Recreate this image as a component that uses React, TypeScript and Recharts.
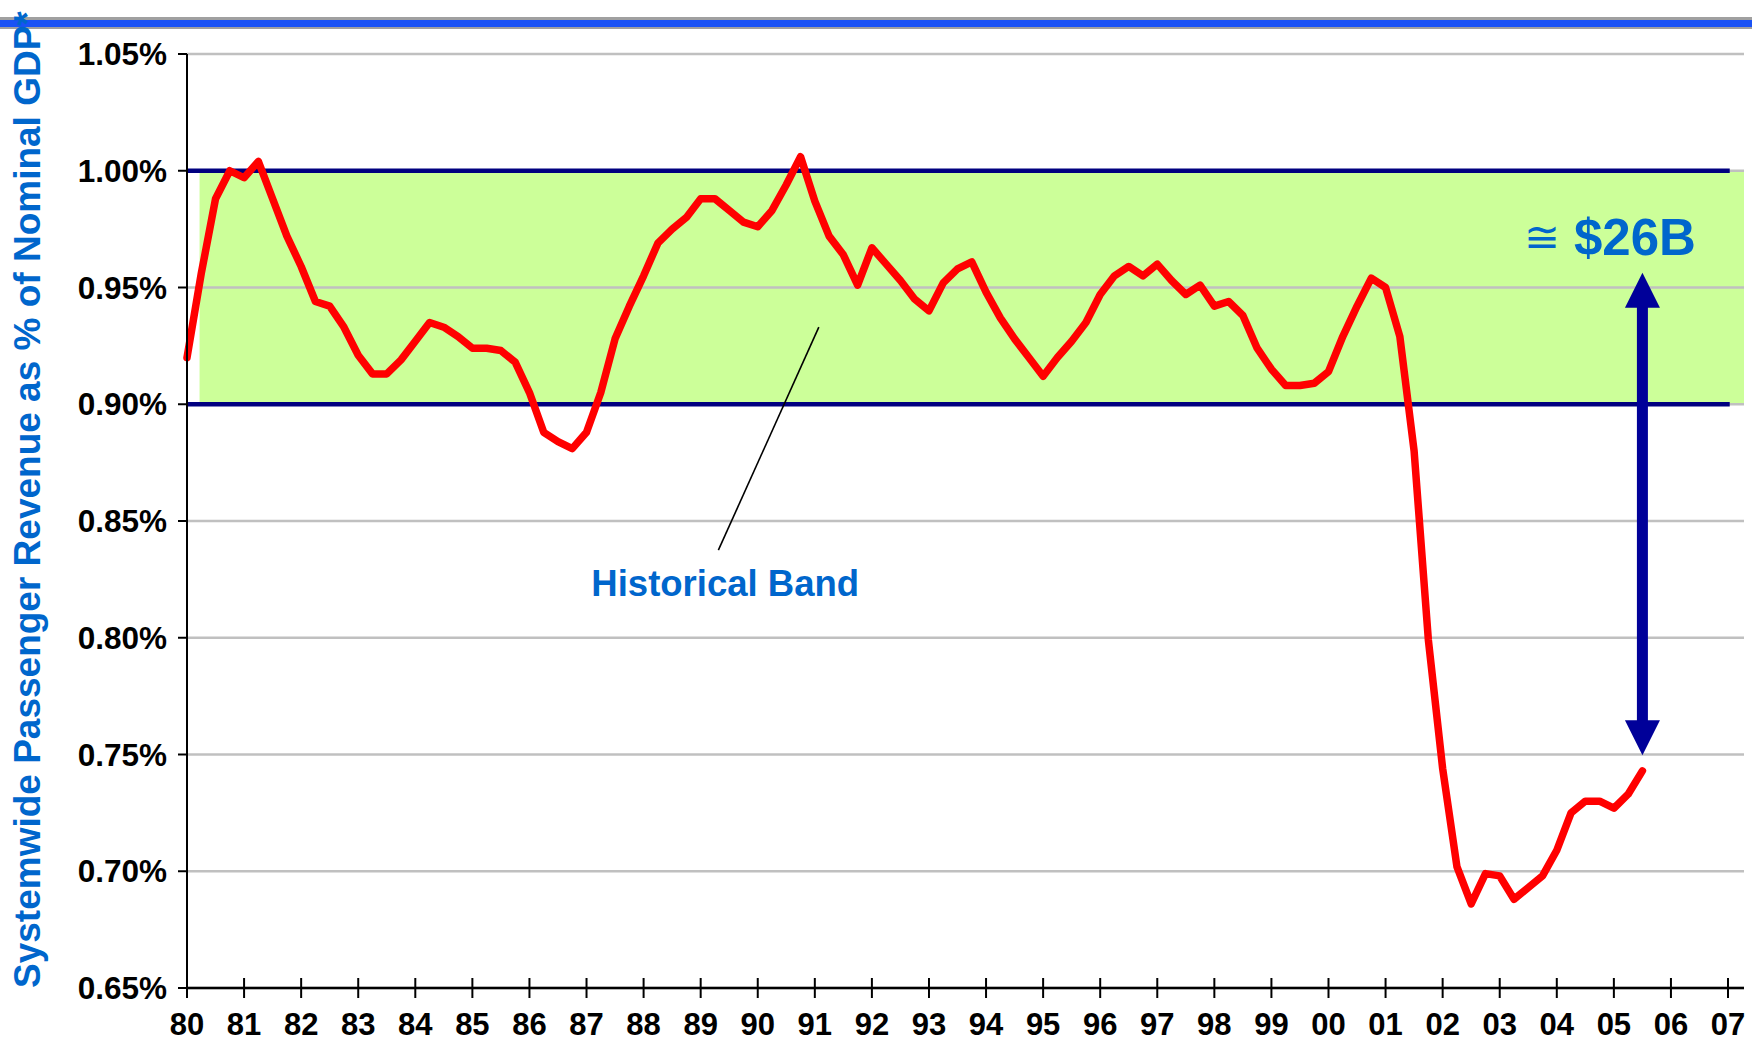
import React from 'react';
import { LineChart, Line, XAxis, YAxis, ReferenceArea, ReferenceLine, ReferenceDot } from 'recharts';

// quarterly, 1980Q1 .. 2005Q3
const firstYear = 1980;
const revenueShare = [
  0.920, 0.956, 0.988, 1.000, 0.997, 1.004, 0.988, 0.972, 0.959, 0.944,
  0.942, 0.933, 0.921, 0.913, 0.913, 0.919, 0.927, 0.935, 0.933, 0.929,
  0.924, 0.924, 0.923, 0.918, 0.905, 0.888, 0.884, 0.881, 0.888, 0.905,
  0.928, 0.942, 0.955, 0.969, 0.975, 0.980, 0.988, 0.988, 0.983, 0.978,
  0.976, 0.983, 0.994, 1.006, 0.987, 0.972, 0.964, 0.951, 0.967, 0.960,
  0.953, 0.945, 0.940, 0.952, 0.958, 0.961, 0.948, 0.937, 0.928, 0.920,
  0.912, 0.920, 0.927, 0.935, 0.947, 0.955, 0.959, 0.955, 0.960, 0.953,
  0.947, 0.951, 0.942, 0.944, 0.938, 0.924, 0.915, 0.908, 0.908, 0.909,
  0.914, 0.929, 0.942, 0.954, 0.950, 0.929, 0.880, 0.799, 0.744, 0.702,
  0.686, 0.699, 0.698, 0.688, 0.693, 0.698, 0.709, 0.725, 0.730, 0.730,
  0.727, 0.733, 0.743,
];

const xTicks = [
  1980, 1981, 1982, 1983, 1984, 1985, 1986, 1987, 1988, 1989, 1990, 1991, 1992, 1993,
  1994, 1995, 1996, 1997, 1998, 1999, 2000, 2001, 2002, 2003, 2004, 2005, 2006, 2007,
];
const xTickLabels = [
  '80', '81', '82', '83', '84', '85', '86', '87', '88', '89', '90', '91', '92', '93',
  '94', '95', '96', '97', '98', '99', '00', '01', '02', '03', '04', '05', '06', '07',
];
const yTicks = [0.65, 0.7, 0.75, 0.8, 0.85, 0.9, 0.95, 1.0, 1.05];

const bandLow = 0.9;
const bandHigh = 1.0;
const gapFrom = 0.9563;
const gapTo = 0.7497;

const data = revenueShare.map((v, i) => ({ year: firstYear + i / 4, share: v }));

const FONT = '"Liberation Sans", Arial, sans-serif';
const BLUE_TEXT = '#0066CC';

const XTick = (props: any) => {
  const { x, y, payload } = props;
  const idx = xTicks.indexOf(payload.value);
  return (
    <g>
      <line x1={x} x2={x} y1={y - 10} y2={y + 10} stroke="#000" strokeWidth={2} />
      <text x={x} y={y + 36} textAnchor="middle" dominantBaseline="central"
        fontFamily={FONT} fontWeight="bold" fontSize={31} fill="#000">
        {xTickLabels[idx]}
      </text>
    </g>
  );
};

const DoubleArrow = (props: any) => {
  const { x1, y1, y2 } = props;
  const head = 35;
  const half = 17.5;
  return (
    <g fill="#000099">
      <rect x={x1 - 5.5} y={y1 + head - 2} width={11} height={y2 - y1 - 2 * head + 4} />
      <polygon points={`${x1},${y1} ${x1 - half},${y1 + head} ${x1 + half},${y1 + head}`} />
      <polygon points={`${x1},${y2} ${x1 - half},${y2 - head} ${x1 + half},${y2 - head}`} />
    </g>
  );
};

export default function App() {
  return (
    <div style={{ position: 'absolute', left: 0, top: 0, width: 1752, height: 1040, background: '#fff' }}>
      <div style={{ position: 'absolute', left: 0, top: 17, width: 1752, height: 3, background: '#a0a0a0' }} />
      <div style={{ position: 'absolute', left: 0, top: 20, width: 1752, height: 7, background: '#1a52f5' }} />
      <div style={{ position: 'absolute', left: 0, top: 27, width: 1752, height: 2, background: '#a0a0a0' }} />

      <LineChart width={1752} height={1040} data={data}
        margin={{ top: 54, right: 8, bottom: 0, left: 0 }}>
        <XAxis dataKey="year" type="number" domain={[1980, 2007.28]} ticks={xTicks}
          interval={0} height={52} tickSize={0} tickMargin={0} tickLine={false}
          axisLine={{ stroke: '#000', strokeWidth: 2.5 }} tick={<XTick />} />
        <YAxis type="number" domain={[0.65, 1.05]} ticks={yTicks} interval={0} width={187}
          tickSize={9} tickMargin={11}
          axisLine={{ stroke: '#000', strokeWidth: 2 }}
          tickLine={{ stroke: '#000', strokeWidth: 2 }}
          tick={{ fontFamily: FONT, fontWeight: 'bold', fontSize: 31.5, fill: '#000' }}
          tickFormatter={(v: number) => v.toFixed(2) + '%'} />

        <ReferenceArea x1={1980.22} x2={2007.28} y1={bandLow} y2={bandHigh}
          fill="#CCFF99" fillOpacity={1} stroke="none" />
        {yTicks.map((v) => (
          <ReferenceLine key={v} y={v} stroke="#C0C0C0" strokeWidth={2.5} />
        ))}
        <ReferenceLine segment={[{ x: 1980, y: bandHigh }, { x: 2007.03, y: bandHigh }]}
          stroke="#000080" strokeWidth={4.5} />
        <ReferenceLine segment={[{ x: 1980, y: bandLow }, { x: 2007.03, y: bandLow }]}
          stroke="#000080" strokeWidth={4.5} />

        <ReferenceLine segment={[{ x: 1991.07, y: 0.933 }, { x: 1989.31, y: 0.8375 }]}
          stroke="#000" strokeWidth={1.6} />

        <Line dataKey="share" type="linear" stroke="#FF0000" strokeWidth={7.5} dot={false}
          strokeLinejoin="round" strokeLinecap="round" isAnimationActive={false} />

        <ReferenceLine segment={[{ x: 2005.5, y: gapFrom }, { x: 2005.5, y: gapTo }]}
          shape={<DoubleArrow />} />

        <ReferenceDot x={1989.43} y={0.8234} r={0}
          shape={(p: any) => (
            <text x={p.cx} y={p.cy} textAnchor="middle" dominantBaseline="central"
              fontFamily={FONT} fontWeight="bold" fontSize={36.5} fill={BLUE_TEXT}>
              Historical Band
            </text>
          )} />
        <ReferenceDot x={2004.93} y={0.9716} r={0}
          shape={(p: any) => (
            <text x={p.cx} y={p.cy} textAnchor="middle" dominantBaseline="central"
              fontFamily={FONT} fill={BLUE_TEXT}>
              <tspan fontSize={43} fontFamily='"DejaVu Sans", sans-serif'>≅</tspan>
              <tspan fontSize={51} fontWeight="bold"> $26B</tspan>
            </text>
          )} />
      </LineChart>

      <svg style={{ position: 'absolute', left: 0, top: 0 }} width={80} height={1040}>
        <text x={40} y={988} transform="rotate(-90 40 988)" fontFamily={FONT} fontWeight="bold"
          fontSize={37} fill={BLUE_TEXT}>
          Systemwide Passenger Revenue as % of Nominal GDP*
        </text>
      </svg>
    </div>
  );
}
